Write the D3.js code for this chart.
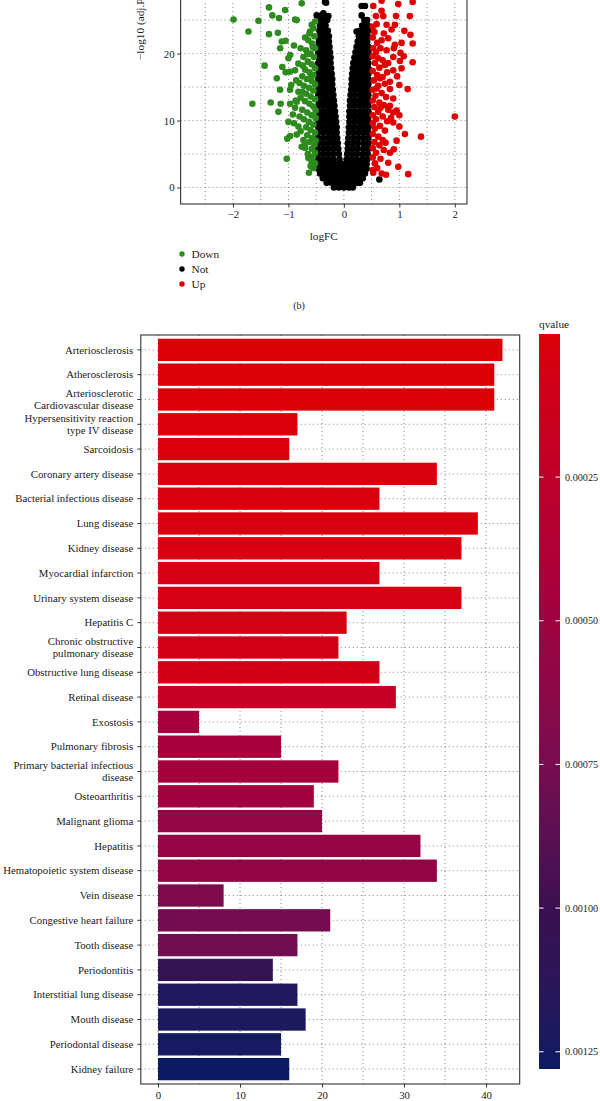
<!DOCTYPE html>
<html><head><meta charset="utf-8">
<script src="https://cdn.jsdelivr.net/npm/d3@7"></script>
<style>
body{margin:0;background:#fff}
text{font-family:"Liberation Serif","Times New Roman",serif;fill:#1a1a1a}
</style>
</head><body>
<svg id="c" width="600" height="1101"></svg>
<script>
// ---------------- DATA ----------------
const categories = [
  "Arteriosclerosis","Atherosclerosis","Arteriosclerotic\nCardiovascular disease",
  "Hypersensitivity reaction\ntype IV disease","Sarcoidosis","Coronary artery disease",
  "Bacterial infectious disease","Lung disease","Kidney disease","Myocardial infarction",
  "Urinary system disease","Hepatitis C","Chronic obstructive\npulmonary disease",
  "Obstructive lung disease","Retinal disease","Exostosis","Pulmonary fibrosis",
  "Primary bacterial infectious\ndisease","Osteoarthritis","Malignant glioma","Hepatitis",
  "Hematopoietic system disease","Vein disease","Congestive heart failure","Tooth disease",
  "Periodontitis","Interstitial lung disease","Mouth disease","Periodontal disease","Kidney failure"
];
const geneCounts = [42,41,41,17,16,34,27,39,37,27,37,23,22,27,29,5,15,22,19,20,32,34,8,21,17,14,17,18,15,16];
const qvalues = [0.000001,0.000002,0.000002,0.00002,0.00002,0.00003,0.00003,0.00004,0.00004,0.00005,
  0.00005,0.00006,0.00008,0.00008,0.0002,0.00045,0.00046,0.00047,0.00049,0.00057,
  0.00056,0.00058,0.00072,0.00076,0.00078,0.00105,0.0012,0.00122,0.00125,0.00128];
const countTicks = [0,10,20,30,40];
const qTicks = [0.00025,0.0005,0.00075,0.001,0.00125];
const qTickLabels = ["0.00025","0.00050","0.00075","0.00100","0.00125"];

const logFCTicks = [-2,-1,0,1,2];
const pTicks = [0,10,20];
const legendLabels = ["Down","Not","Up"];

const downPoints = [
[-1.99,25.1],[-1.72,23.3],[-1.65,12.5],[-1.54,24.9],[-1.43,18.2],[-1.35,26.9],[-1.35,22.9],[-1.32,12.7],
[-1.29,25.7],[-1.21,16.3],[-1.19,23.1],[-1.18,11.3],[-1.17,25.3],[-1.15,20.8],[-1.15,14.6],[-1.14,12.5],
[-1.12,21.8],[-1.11,18.0],[-1.06,26.5],[-1.05,21.9],[-1.05,17.2],[-1.03,4.3],[-1.02,7.3],[-1.0,19.3],
[-1.0,9.8],[-0.97,19.8],[-0.97,17.3],[-0.97,14.6],[-0.97,12.5],[-0.97,7.7],[-0.90,21.2],[-0.88,25.1],
[-0.88,17.5],[-0.85,25.0],[-0.85,12.8],[-0.82,18.5],[-0.82,14.3],[-0.82,9.1],[-0.76,27.5],[-0.76,6.1],
[-0.73,19.5],[-0.73,7.1],[-0.70,5.9],[-0.68,20.5],[-0.64,22.0],[-0.64,4.4],[-0.63,2.2],[-0.61,23.3],
[-0.58,24.3],[-0.58,3.9],[-0.55,2.9],
[-0.52,24.8],[-0.55,23.8],[-0.53,22.6],[-0.57,21.5],[-0.52,20.8],[-0.6,20.0],[-0.54,19.5],[-0.65,18.8],
[-0.58,18.4],[-0.52,17.8],[-0.7,17.6],[-0.62,17.2],[-0.55,16.8],[-0.75,16.6],[-0.67,16.2],[-0.58,15.9],
[-0.52,15.4],[-0.8,15.6],[-0.72,15.2],[-0.63,14.9],[-0.55,14.5],[-0.68,14.0],[-0.6,13.6],[-0.52,13.2],
[-0.78,13.4],[-0.7,12.9],[-0.62,12.5],[-0.55,12.1],[-0.88,11.9],[-0.75,11.6],[-0.66,11.2],[-0.58,10.8],
[-0.51,10.4],[-0.8,10.6],[-0.72,10.2],[-0.63,9.8],[-0.55,9.4],[-0.9,9.6],[-0.68,9.0],[-0.6,8.6],
[-0.52,8.2],[-0.78,8.4],[-0.66,7.8],[-0.57,7.4],[-0.85,7.9],[-0.62,6.8],[-0.53,6.4],[-0.7,6.5],
[-0.58,5.8],[-0.52,5.2],[-0.65,5.0],[-0.56,4.6],[-0.52,3.6],[-0.6,3.2],[-0.92,10.9],[-0.87,13.0],
[-0.62,23.0],[-0.7,22.4],[-0.56,21.0],[-0.78,20.8],[-0.66,19.9],[-0.74,18.2],[-0.6,16.4],[-0.86,16.0],
[-0.51,11.5],[-0.51,7.0],[-0.75,14.3],[-0.95,15.3]
];
const upPoints = [
[0.53,27.1],[0.68,27.9],[0.98,27.4],[1.24,27.7],[0.71,25.6],[0.94,25.6],[1.19,25.6],[0.59,24.4],
[0.77,24.3],[0.92,24.3],[1.09,23.4],[1.20,22.8],[1.04,21.6],[1.24,21.5],[0.80,22.3],[0.68,22.0],
[0.92,21.3],[1.02,20.1],[0.77,20.5],[0.89,19.5],[1.01,18.9],[1.24,18.7],[1.04,17.8],[0.89,17.5],
[0.74,18.3],[0.62,19.3],[0.65,16.3],[0.83,15.8],[1.0,15.3],[1.15,14.7],[0.83,14.7],[0.89,13.3],
[0.59,14.8],[2.0,10.6],[1.39,7.6],[1.10,8.0],[0.95,7.0],[1.0,9.1],[0.89,9.7],[1.0,10.8],
[0.95,11.5],[0.89,11.2],[0.83,12.2],[0.90,5.7],[0.83,5.2],[0.80,3.7],[0.98,3.1],[1.16,2.0],
[0.76,1.9],[0.68,2.1],[0.53,2.2],
[0.52,24.0],[0.55,23.2],[0.52,22.4],[0.6,21.6],[0.53,20.8],[0.58,20.2],[0.66,20.8],[0.52,19.6],
[0.7,19.0],[0.56,18.6],[0.64,17.9],[0.52,17.4],[0.78,17.2],[0.6,16.8],[0.7,16.5],[0.54,16.0],
[0.74,15.5],[0.62,15.2],[0.52,14.6],[0.68,14.1],[0.57,13.7],[0.76,13.5],[0.52,13.0],[0.64,12.7],
[0.72,12.3],[0.55,12.0],[0.8,11.6],[0.62,11.3],[0.52,10.8],[0.7,10.6],[0.58,10.2],[0.78,9.9],
[0.52,9.6],[0.65,9.2],[0.56,8.8],[0.74,8.5],[0.52,8.0],[0.62,7.6],[0.7,7.1],[0.55,6.8],
[0.64,6.3],[0.52,5.9],[0.72,5.6],[0.58,5.2],[0.52,4.5],[0.66,4.3],[0.56,3.6],[0.6,2.9],
[0.52,2.6],[0.72,23.0],[0.86,23.6],[0.8,18.6],[0.85,10.4],[0.75,6.7],[0.68,26.4],[0.58,25.6],
[0.96,16.6],[0.9,20.8],[1.08,19.6],[0.66,11.9]
];
// "Not" genes, listed row by row: [ -log10(adj.P), [logFC values] ]
const notRows = [
[0.0,[-0.18,-0.09,0,0.09,0.16]],
[0.7,[-0.31,-0.22,-0.13,-0.04,0.05,0.14,0.23,0.29]],
[1.4,[-0.38,-0.29,-0.20,-0.11,-0.02,0.07,0.16,0.25,0.34]],
[2.1,[-0.43,-0.34,-0.25,-0.16,-0.07,0.02,0.11,0.20,0.29,0.38]],
[2.8,[-0.46,-0.37,-0.28,-0.19,-0.10,-0.02,0.06,0.15,0.24,0.33,0.41]],
[3.5,[-0.46,-0.37,-0.28,-0.19,-0.10,-0.03,0.05,0.14,0.23,0.32,0.41]],
[4.2,[-0.46,-0.37,-0.28,-0.19,-0.08,0.05,0.14,0.23,0.33,0.42]],
[5.0,[-0.46,-0.37,-0.28,-0.19,-0.09,0.06,0.15,0.24,0.34,0.43]],
[5.8,[-0.46,-0.37,-0.28,-0.19,-0.10,0.07,0.16,0.25,0.35,0.44]],
[6.6,[-0.46,-0.37,-0.28,-0.19,-0.11,0.07,0.16,0.25,0.35,0.44]],
[7.4,[-0.46,-0.37,-0.28,-0.20,-0.12,0.08,0.17,0.26,0.35,0.44]],
[8.2,[-0.46,-0.37,-0.28,-0.20,-0.13,0.09,0.18,0.27,0.36,0.44]],
[9.0,[-0.46,-0.37,-0.29,-0.21,-0.13,0.09,0.18,0.27,0.36,0.44]],
[9.8,[-0.46,-0.38,-0.30,-0.22,-0.14,0.10,0.19,0.28,0.36,0.44]],
[10.6,[-0.46,-0.38,-0.30,-0.22,-0.15,0.10,0.19,0.28,0.36,0.44]],
[11.4,[-0.46,-0.38,-0.30,-0.23,-0.16,0.10,0.19,0.28,0.36,0.44]],
[12.2,[-0.46,-0.38,-0.31,-0.24,-0.17,0.11,0.19,0.28,0.36,0.44]],
[13.0,[-0.46,-0.38,-0.31,-0.24,-0.18,0.11,0.19,0.28,0.36,0.44]],
[13.8,[-0.46,-0.38,-0.32,-0.25,-0.19,0.12,0.20,0.29,0.37,0.44]],
[14.6,[-0.46,-0.39,-0.32,-0.26,-0.20,0.13,0.21,0.30,0.37,0.44]],
[15.4,[-0.46,-0.39,-0.33,-0.26,-0.21,0.14,0.22,0.30,0.37,0.44]],
[16.2,[-0.46,-0.39,-0.33,-0.27,-0.21,0.14,0.22,0.30,0.37,0.44]],
[17.0,[-0.46,-0.40,-0.34,-0.28,-0.22,0.15,0.23,0.31,0.38,0.44]],
[17.8,[-0.46,-0.40,-0.34,-0.28,-0.23,0.16,0.24,0.32,0.38,0.44]],
[18.6,[-0.46,-0.40,-0.34,-0.29,-0.24,0.17,0.25,0.33,0.39,0.44]],
[19.4,[-0.46,-0.40,-0.35,-0.30,-0.24,0.19,0.26,0.34,0.39,0.44]],
[20.2,[-0.46,-0.40,-0.35,-0.30,-0.25,0.21,0.28,0.35,0.40,0.44]],
[21.0,[-0.46,-0.40,-0.35,-0.30,-0.26,0.23,0.30,0.36,0.41,0.44]],
[21.8,[-0.45,-0.40,-0.35,-0.31,-0.27,0.25,0.31,0.37,0.42]],
[22.6,[-0.45,-0.40,-0.35,-0.31,-0.27,0.27,0.33,0.38,0.43]],
[23.4,[-0.44,-0.39,-0.34,-0.29,0.29,0.35,0.40,0.44]],
[24.2,[-0.43,-0.38,-0.33,0.33,0.38,0.43]],
[25.0,[-0.42,-0.36,-0.30,0.37,0.42]]
];
const notExtra = [[-0.40,25.7],[-0.49,25.7],[-0.37,26.0],[-0.34,27.7],[-0.32,27.6],[0.32,27.1],
  [0.38,27.1],[0.32,25.7],[0.23,23.3],[0.41,24.3],[0.64,1.2],[-0.28,25.6]];

// ---------------- STYLE ----------------
const svg = d3.select("#c");
const FONT = 10.8;
const gridStyle = s => s.attr("stroke","#555").attr("stroke-width",0.7).attr("stroke-dasharray","1,3");
const green = "#2E8B1E", red = "#E00000";

// ---------------- VOLCANO ----------------
const vx = d3.scaleLinear().domain([-2.944, 2.22]).range([180.6, 467]);
const vy = d3.scaleLinear().domain([-2.46, 51]).range([204, -154]);
svg.append("clipPath").attr("id","vclip").append("rect")
  .attr("x",vx.range()[0]).attr("y",vy.range()[1]).attr("width",vx.range()[1]-vx.range()[0]).attr("height",vy.range()[0]-vy.range()[1]);
const vg = svg.append("g");
const vgrid = vg.append("g").attr("clip-path","url(#vclip)");
vgrid.selectAll("line.gx").data(d3.range(-2.5,2.01,0.5)).join("line")
  .attr("x1",d=>vx(d)).attr("x2",d=>vx(d)).attr("y1",vy.range()[0]).attr("y2",vy.range()[1]).call(gridStyle);
vgrid.selectAll("line.gy").data(d3.range(0,51,5)).join("line")
  .attr("y1",d=>vy(d)).attr("y2",d=>vy(d)).attr("x1",vx.range()[0]).attr("x2",vx.range()[1]).call(gridStyle);

const notPoints = notRows.flatMap(([p,xs]) => xs.map(x => [x,p])).concat(notExtra);
const pts = vg.append("g").attr("clip-path","url(#vclip)");
const R = 3.3;
pts.selectAll("circle.n").data(notPoints).join("circle").attr("cx",d=>vx(d[0])).attr("cy",d=>vy(d[1])).attr("r",R).attr("fill","#000");
pts.selectAll("circle.d").data(downPoints).join("circle").attr("cx",d=>vx(d[0])).attr("cy",d=>vy(d[1])).attr("r",R).attr("fill",green);
pts.selectAll("circle.u").data(upPoints).join("circle").attr("cx",d=>vx(d[0])).attr("cy",d=>vy(d[1])).attr("r",R).attr("fill",red);

vg.append("rect").attr("x",vx.range()[0]).attr("y",vy.range()[1]).attr("width",vx.range()[1]-vx.range()[0])
  .attr("height",vy.range()[0]-vy.range()[1]).attr("fill","none").attr("stroke","#333").attr("stroke-width",1.1);

const fmtMinus = d => d < 0 ? "\u2212" + Math.abs(d) : String(d);
const vxAxis = vg.append("g").attr("transform",`translate(0,${vy.range()[0]})`)
  .call(d3.axisBottom(vx).tickValues(logFCTicks).tickFormat(fmtMinus).tickSize(3.5).tickPadding(3));
const vyAxis = vg.append("g").attr("transform",`translate(${vx.range()[0]},0)`)
  .call(d3.axisLeft(vy).tickValues(pTicks).tickSize(3.5).tickPadding(2.5));
[vxAxis,vyAxis].forEach(a=>{
  a.select(".domain").remove();
  a.selectAll("line").attr("stroke","#333");
  a.selectAll("text").attr("font-family","Liberation Serif, serif").attr("font-size",FONT).attr("fill","#1a1a1a");
});
vg.append("text").attr("x",(vx.range()[0]+vx.range()[1])/2).attr("y",240).attr("text-anchor","middle").attr("font-size",FONT+0.5).text("logFC");
vg.append("text").attr("transform","translate(144,60) rotate(-90)").attr("text-anchor","start").attr("font-size",FONT+0.5).text("\u2212log10 (adj.P.Val)");

// legend
const legColors = [green,"#000",red];
const legY = d3.scalePoint().domain(legendLabels).range([254,284]);
const leg = vg.append("g");
leg.selectAll("circle").data(legendLabels).join("circle").attr("cx",182).attr("cy",d=>legY(d)).attr("r",2.7).attr("fill",(d,i)=>legColors[i]);
leg.selectAll("text").data(legendLabels).join("text").attr("x",191.5).attr("y",d=>legY(d)).attr("dy","0.35em").attr("font-size",FONT+0.5).text(d=>d);
svg.append("text").attr("x",299).attr("y",308.5).attr("text-anchor","middle").attr("font-size",10).text("(b)");

// ---------------- BAR CHART ----------------
const bx = d3.scaleLinear().domain([-2.1, 44.1]).range([140.8, 519.7]);
const by = d3.scaleBand().domain(categories).range([335, 1084]).paddingInner(0.1).paddingOuter(0.15);
const qmin = d3.min(qvalues), qmax = d3.max(qvalues);
const color = d3.scaleLinear()
  .domain([qmin, 0.00045, 0.00075, 0.001, qmax])
  .range(["#DB0007","#A8003C","#780C50","#3A1052","#0B1B63"])
  .interpolate(d3.interpolateLab);
const bg = svg.append("g");
const bgrid = bg.append("g");
bgrid.selectAll("line.gx").data(d3.range(0,44,5)).join("line")
  .attr("x1",d=>bx(d)).attr("x2",d=>bx(d)).attr("y1",by.range()[0]).attr("y2",by.range()[1]).call(gridStyle);
bgrid.selectAll("line.gy").data(categories).join("line")
  .attr("y1",d=>by(d)+by.bandwidth()/2).attr("y2",d=>by(d)+by.bandwidth()/2)
  .attr("x1",bx.range()[0]).attr("x2",bx.range()[1]).call(gridStyle);
bg.selectAll("rect.bar").data(categories).join("rect")
  .attr("x",bx(0)).attr("y",d=>by(d)).attr("height",by.bandwidth())
  .attr("width",(d,i)=>bx(geneCounts[i])-bx(0)).attr("fill",(d,i)=>color(qvalues[i]));
bg.append("rect").attr("x",bx.range()[0]).attr("y",by.range()[0]).attr("width",bx.range()[1]-bx.range()[0])
  .attr("height",by.range()[1]-by.range()[0]).attr("fill","none").attr("stroke","#333").attr("stroke-width",1.1);

const bxAxis = bg.append("g").attr("transform",`translate(0,${by.range()[1]})`)
  .call(d3.axisBottom(bx).tickValues(countTicks).tickSize(3.5).tickPadding(4));
bxAxis.select(".domain").remove();
bxAxis.selectAll("line").attr("stroke","#333");
bxAxis.selectAll("text").attr("font-family","Liberation Serif, serif").attr("font-size",FONT).attr("fill","#1a1a1a");

const byAxis = bg.append("g").attr("transform",`translate(${bx.range()[0]},0)`)
  .call(d3.axisLeft(by).tickSize(3.5).tickPadding(4).tickFormat(""));
byAxis.select(".domain").remove();
byAxis.selectAll("line").attr("stroke","#333");
byAxis.selectAll(".tick").each(function(d){
  const lines = d.split("\n");
  const t = d3.select(this).append("text").attr("x",-7.5).attr("text-anchor","end")
    .attr("font-family","Liberation Serif, serif").attr("font-size",FONT).attr("fill","#1a1a1a");
  const lh = 12.3;
  lines.forEach((s,i)=>{
    t.append("tspan").attr("x",-7.5).attr("y",(i-(lines.length-1)/2)*lh).attr("dy","0.35em").text(s);
  });
});

// colorbar
const cy = d3.scaleLinear().domain([qmin,qmax]).range([334,1069]);
const defs = svg.append("defs");
const grad = defs.append("linearGradient").attr("id","qgrad").attr("x1",0).attr("x2",0).attr("y1",0).attr("y2",1);
d3.range(0,1.0001,0.025).forEach(t=>{
  grad.append("stop").attr("offset",t).attr("stop-color",color(qmin+t*(qmax-qmin)));
});
const cbX = 539, cbW = 21;
svg.append("rect").attr("x",cbX).attr("y",cy.range()[0]).attr("width",cbW).attr("height",cy.range()[1]-cy.range()[0]).attr("fill","url(#qgrad)");
const cbT = svg.append("g");
cbT.selectAll("line.l").data(qTicks).join("line").attr("x1",cbX).attr("x2",cbX+4.5).attr("y1",d=>cy(d)).attr("y2",d=>cy(d)).attr("stroke","#fff").attr("stroke-width",1);
cbT.selectAll("line.r").data(qTicks).join("line").attr("x1",cbX+cbW-4.5).attr("x2",cbX+cbW).attr("y1",d=>cy(d)).attr("y2",d=>cy(d)).attr("stroke","#fff").attr("stroke-width",1);
cbT.selectAll("text").data(qTicks).join("text").attr("x",cbX+cbW+5).attr("y",d=>cy(d)).attr("dy","0.35em").attr("font-size",10.2).text((d,i)=>qTickLabels[i]);
svg.append("text").attr("x",cbX).attr("y",328).attr("font-size",FONT+0.5).text("qvalue");
</script>
</body></html>
